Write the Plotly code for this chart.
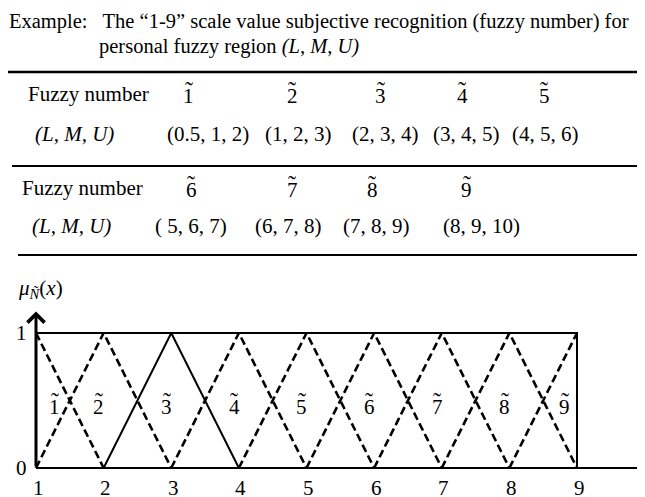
import plotly.graph_objects as go

# fuzzy numbers of the "1-9" scale, (L, M, U)
digits = [1, 2, 3, 4, 5, 6, 7, 8, 9]
L = [0.5, 1, 2, 3, 4, 5, 6, 7, 8]
M = [1, 2, 3, 4, 5, 6, 7, 8, 9]
U = [2, 3, 4, 5, 6, 7, 8, 9, 10]
lmu_text = ["(0.5, 1, 2)", "(1, 2, 3)", "(2, 3, 4)", "(3, 4, 5)", "(4, 5, 6)",
            "( 5, 6, 7)", "(6, 7, 8)", "(7, 8, 9)", "(8, 9, 10)"]
highlight = 3  # the solid triangle
x_ticks = [1, 2, 3, 4, 5, 6, 7, 8, 9]
y_ticks = [0, 1]

FONT = "Liberation Serif"
OFF = 8                 # page body margin
W, H = 645 - OFF, 497 - OFF

# page-pixel anchors of the chart
X1_PX, X9_PX = 36 - OFF, 577 - OFF
Y0_PX, Y1_PX = 468 - OFF, 333 - OFF
xu = (X9_PX - X1_PX) / 8
yu = Y0_PX - Y1_PX
xrange = [1 - X1_PX / xu, 1 + (W - X1_PX) / xu]
yrange = [-(H - Y0_PX) / yu, Y0_PX / yu]


def px(x):
    return (x - OFF) / W


def py(y):
    return 1 - (y - OFF) / H


def clip(xs, ys, lo=1, hi=9):
    ox, oy = [], []
    for i in range(len(xs) - 1):
        x0, y0, x1, y1 = xs[i], ys[i], xs[i + 1], ys[i + 1]
        a, b = max(min(x0, x1), lo), min(max(x0, x1), hi)
        if a > b:
            continue
        for xx in ([a, b] if x0 <= x1 else [b, a]):
            yy = y0 + (y1 - y0) * (xx - x0) / (x1 - x0)
            if not ox or ox[-1] != xx or oy[-1] != yy:
                ox.append(xx)
                oy.append(yy)
    return ox, oy


fig = go.Figure()

for d, l, m, u in zip(digits, L, M, U):
    tx, ty = clip([l, m, u], [0, 1, 0])
    if d == highlight:
        line = dict(color="black", width=2)
    else:
        line = dict(color="black", width=2.6, dash="8px,4px")
    fig.add_trace(go.Scatter(x=tx, y=ty, mode="lines", line=line,
                             showlegend=False, hoverinfo="skip"))

# frame of the chart
fig.add_trace(go.Scatter(x=[1, 9, 9], y=[1, 1, 0], mode="lines",
                         line=dict(color="black", width=2), showlegend=False))
fig.add_trace(go.Scatter(x=[1, xrange[1]], y=[0, 0], mode="lines",
                         line=dict(color="black", width=2), showlegend=False))

f = dict(family=FONT, size=21, color="black")
ann = []


def text(x, y, s, xa="center", ref="paper", font=f, **kw):
    ann.append(dict(x=x, y=y, xref=ref, yref=ref if ref == "paper" else "y",
                    text=s, showarrow=False, font=font, xanchor=xa,
                    yanchor="middle", **kw))


def tilde_num(x, y, d, ref="paper"):
    text(x, y, str(d), ref=ref)
    text(x, y, "\u02dc", ref=ref, yshift=6, font=dict(f, size=24))


# y axis with arrow
ann.append(dict(x=1, y=1.16, ax=1, ay=0, xref="x", yref="y", axref="x", ayref="y",
                text="", showarrow=True, arrowhead=4, arrowsize=1.1, arrowwidth=3,
                arrowcolor="black"))

for t in x_ticks:
    text(t, 0, str(t), ref="x", yshift=-20, xshift=2)
for t in y_ticks:
    text(1, t, str(t), ref="x", xshift=-15)

# labels inside the chart
for d, m in zip(digits, M):
    tilde_num(min(max(m - 0.07, 1.28), 8.82), 0.45, d, ref="x")

text(px(16), py(289), "<i>μ</i><sub><i>Ñ</i></sub>(<i>x</i>)", xa="left")

# caption
text(px(8), py(21),
     "Example:\u00a0\u00a0 The \u201c1-9\u201d scale value subjective recognition (fuzzy number) for",
     xa="left", xshift=-1, font=dict(f, size=20.5))
text(px(97), py(46), "personal fuzzy region <i>(L, M, U)</i>", xa="left",
     font=dict(f, size=20.5))

# table
rows = [
    dict(n=slice(0, 5), fy=94, ly=134, fx=26, lx=33,
         tx=[189, 292, 381, 462, 544], cx=[208, 298, 385, 466, 545]),
    dict(n=slice(5, 9), fy=188, ly=226, fx=20, lx=30,
         tx=[191, 292, 372, 467], cx=[191, 288, 376, 481]),
]
for r in rows:
    text(px(r["fx"]), py(r["fy"]), "Fuzzy number", xa="left")
    text(px(r["lx"]), py(r["ly"]), "<i>(L, M, U)</i>", xa="left")
    for d, x in zip(digits[r["n"]], r["tx"]):
        tilde_num(px(x), py(r["fy"] + 2), d)
    for s, x in zip(lmu_text[r["n"]], r["cx"]):
        text(px(x), py(r["ly"]), s)

shapes = []
for x0, y, w in [(8, 72, 2.5), (12, 166, 2), (18, 255, 2)]:
    shapes.append(dict(type="line", xref="paper", yref="paper", x0=px(x0), x1=1,
                       y0=py(y), y1=py(y), line=dict(color="black", width=w)))

fig.update_layout(
    width=W, height=H,
    margin=dict(l=0, r=0, t=0, b=0),
    paper_bgcolor="white", plot_bgcolor="white",
    xaxis=dict(range=xrange, visible=False, fixedrange=True),
    yaxis=dict(range=yrange, visible=False, fixedrange=True),
    annotations=ann, shapes=shapes,
)

fig.write_html("out.html")
